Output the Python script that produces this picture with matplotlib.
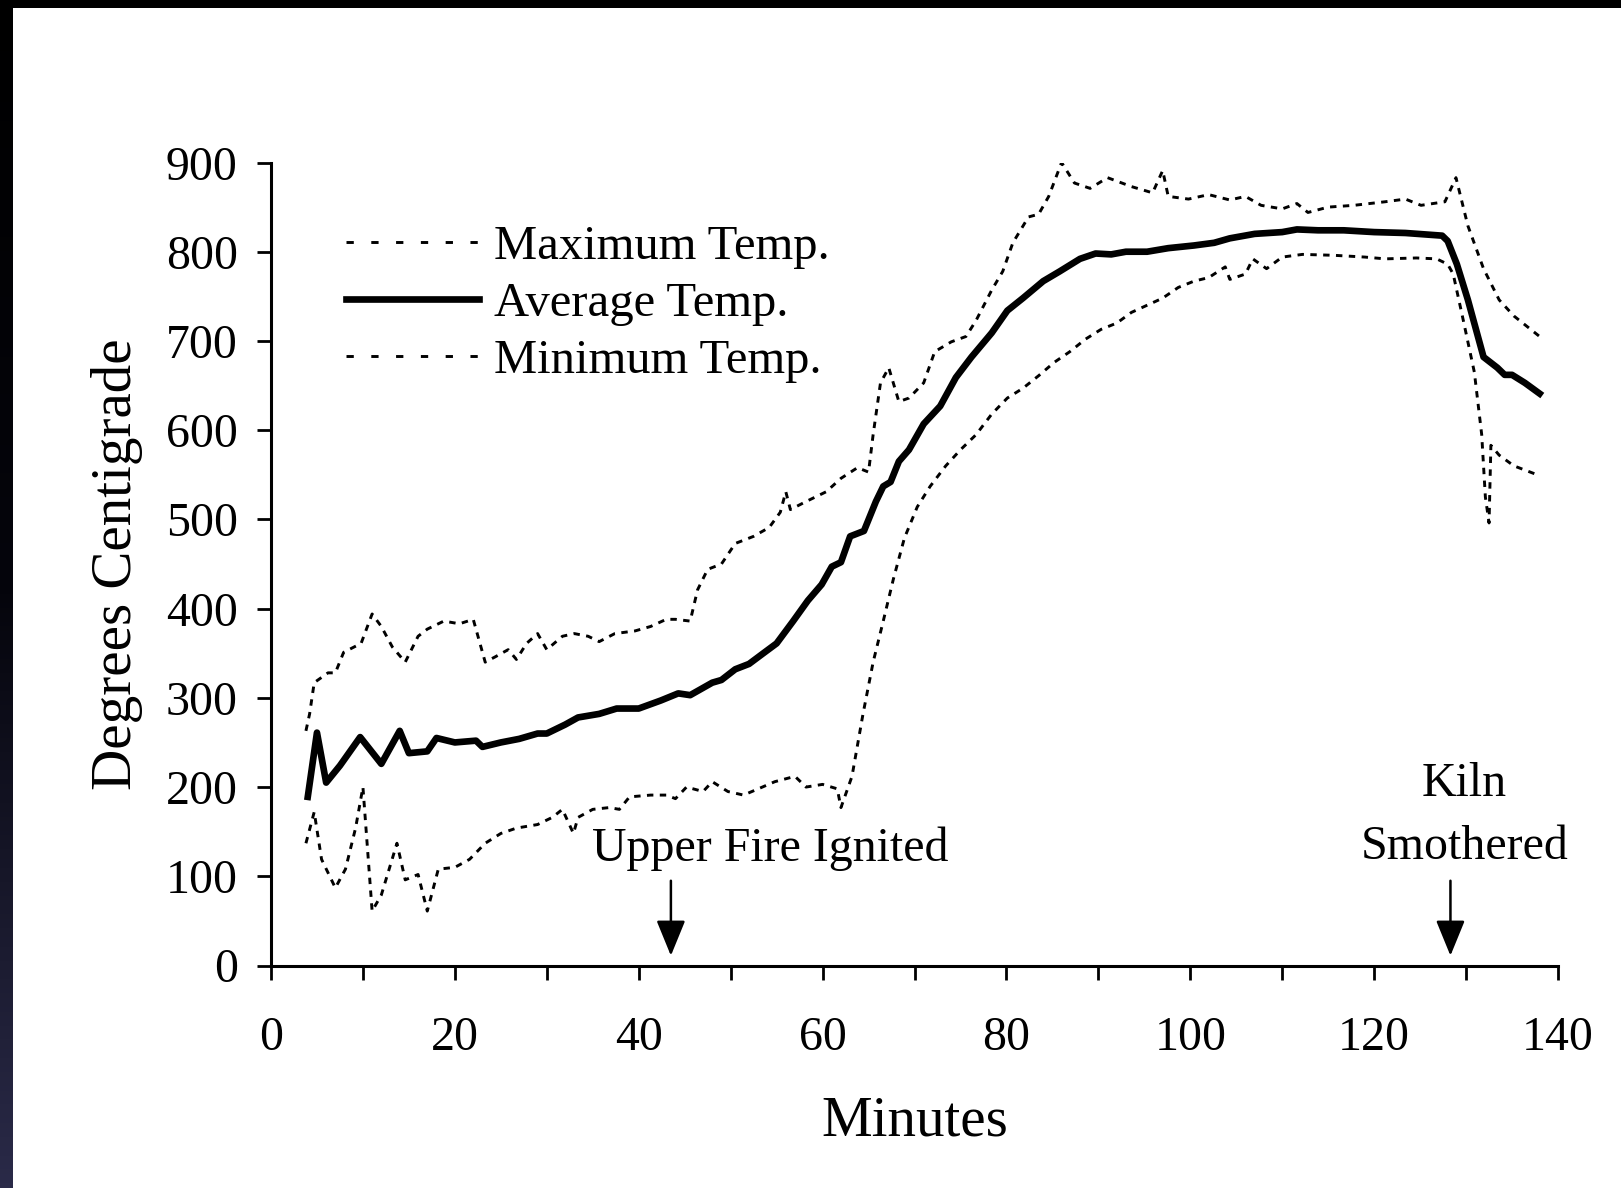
import numpy as np
import matplotlib
matplotlib.use("Agg")
import matplotlib.pyplot as plt
from matplotlib.lines import Line2D

# kiln firing temperatures
avg_min = [4, 5, 6, 7.5, 9.7, 12, 14, 15, 17, 18, 20, 22.3, 23, 25, 27, 29, 30, 32, 33.4, 35.7,
           37.6, 40, 42.4, 44.3, 45.6, 48, 49, 50.5, 52, 53.3, 55, 56.8, 58.4, 59.9, 61, 62, 63,
           64.5, 65.8, 66.6, 67.4, 68.3, 69.4, 71, 72.8, 74.5, 76.2, 78.4, 80.1, 81.8, 84, 85.8,
           88, 89.7, 91.4, 93, 95.3, 97.6, 100.4, 102.6, 104.3, 107, 110, 111.6, 113.9, 116.7,
           120, 123.4, 127.4, 128, 129, 130.2, 131.9, 133.4, 134.2, 135, 136.4, 138]
avg_temp = [189, 261, 205, 224, 256, 226, 263, 238, 240, 255, 250, 252, 245, 250, 254, 260, 260,
            270, 278, 282, 288, 288, 297, 305, 303, 317, 320, 332, 338, 348, 361, 386, 409, 427,
            447, 452, 481, 487, 520, 537, 542, 565, 578, 607, 627, 659, 682, 709, 734, 748, 767,
            778, 792, 798, 797, 800, 800, 804, 807, 810, 815, 820, 822, 825, 824, 824, 822, 821,
            818, 812, 786, 746, 682, 670, 662, 662, 653, 641]

max_min = [3.8, 4.2, 4.7, 6.2, 7, 7.9, 9.8, 11, 12, 13.2, 14.6, 16, 17, 18.8, 20.5, 22, 23.3,
           24.4, 25.8, 26.7, 27.8, 29, 30, 31.7, 33, 34.5, 35.7, 37.4, 39.6, 41.3, 43, 44, 45.6,
           46.4, 47.5, 49, 50.5, 52.5, 54.2, 55.4, 56, 56.5, 58.2, 60.4, 62, 63.8, 65, 65.5, 66.3,
           67.2, 68.3, 69.4, 71, 72.2, 74, 75.6, 76.7, 78.4, 79.6, 80.7, 82.4, 83.5, 84.6, 86,
           87.4, 89.1, 91, 93.6, 95.9, 97, 97.6, 99.8, 102, 104.3, 106, 107.7, 110, 111.6, 112.8,
           115, 117.8, 121.2, 123.4, 125.1, 127.7, 128.9, 130.2, 131.9, 133.6, 135.2, 138]
max_temp = [263, 282, 317, 328, 328, 351, 361, 394, 380, 357, 340, 369, 377, 386, 383, 388, 340,
            346, 354, 343, 361, 372, 354, 369, 372, 369, 363, 372, 375, 380, 388, 388, 386, 421,
            444, 450, 473, 481, 491, 508, 531, 511, 520, 531, 546, 558, 553, 595, 653, 670, 632,
            636, 653, 688, 699, 705, 723, 757, 778, 810, 839, 842, 862, 900, 877, 871, 883, 873,
            866, 891, 862, 859, 864, 858, 862, 852, 848, 854, 844, 850, 852, 856, 859, 852, 856,
            883, 829, 781, 746, 728, 705]

min_min = [3.8, 4.7, 5.5, 7, 8.1, 9.2, 10, 11, 12, 13.7, 14.6, 16, 17, 18.2, 20, 21.6, 23.3, 25,
           26.7, 29, 30.6, 31.7, 32.9, 33.4, 35, 36.8, 37.9, 39, 41.3, 43, 44, 45.2, 47, 48, 49.7,
           51.4, 53, 54.8, 57, 58.2, 60, 61.6, 62, 63.2, 64.4, 65.5, 66.6, 67.7, 68.9, 70.3, 71.7,
           73.4, 75, 76.7, 78.4, 80.1, 81.8, 83.5, 85.2, 86.9, 88.6, 90.3, 92, 93.6, 95.3, 97,
           98.7, 100.4, 102, 103.8, 104.3, 106, 106.8, 108.3, 110, 112.2, 115.6, 119, 121.2,
           124.6, 126.8, 128, 128.6, 129.7, 130.9, 131.7, 132.1, 132.5, 132.7, 133.6, 135.2, 138]
min_temp = [137, 172, 119, 87, 108, 154, 200, 61, 79, 137, 96, 102, 61, 108, 110, 119, 137, 148,
            154, 158, 166, 175, 148, 166, 175, 177, 175, 189, 191, 191, 187, 200, 195, 206, 195,
            191, 198, 206, 212, 200, 203, 198, 177, 212, 282, 340, 386, 433, 479, 514, 537, 560,
            578, 595, 618, 636, 647, 661, 676, 688, 702, 713, 720, 732, 740, 748, 760, 767, 771,
            783, 769, 775, 792, 781, 794, 797, 796, 794, 792, 793, 792, 786, 775, 723, 665, 595,
            525, 496, 583, 572, 560, 549]

x_ticks = [0, 20, 40, 60, 80, 100, 120, 140]
y_ticks = [0, 100, 200, 300, 400, 500, 600, 700, 800, 900]

# events marked with arrows
ignite_min = 43.5
smother_min = 128.3

plt.rcParams['font.family'] = ['Liberation Serif', 'DejaVu Serif']
FS = 34.5
LFS = 41

fig = plt.figure(figsize=(16.21, 11.88), dpi=100)
fig.patch.set_facecolor('white')

# dark frame on top and left of the screenshot
top = fig.add_axes([0, 1 - 8 / 1188, 1, 8 / 1188])
top.set_axis_off()
top.add_patch(plt.Rectangle((0, 0), 1, 1, color='black', transform=top.transAxes))
left = fig.add_axes([0, 0, 13 / 1621, 1])
grad = np.linspace(0, 1, 256).reshape(-1, 1)
cmap = matplotlib.colors.LinearSegmentedColormap.from_list('edge', ['#000000', '#05050c', '#2a2a48'])
left.imshow(grad, aspect='auto', cmap=cmap, extent=[0, 1, 1, 0])
left.set_axis_off()

ax = fig.add_axes([271 / 1621, 1 - 965.5 / 1188, 1287 / 1621, 803 / 1188])

dotted = (0, (2.2, 2.2))
ax.plot(max_min, max_temp, color='black', lw=2.1, ls=dotted)
ax.plot(avg_min, avg_temp, color='black', lw=4.8, solid_joinstyle='round')
ax.plot(min_min, min_temp, color='black', lw=2.1, ls=dotted)

ax.set_xlim(0, 140)
ax.set_ylim(0, 900)
ax.set_xticks(x_ticks)
ax.set_xticks(range(0, 141, 10), minor=True)
ax.set_yticks(y_ticks)
for s in ['top', 'right']:
    ax.spines[s].set_visible(False)
for s in ['left', 'bottom']:
    ax.spines[s].set_linewidth(2.2)
ax.tick_params(which='both', direction='out', length=10, width=2, labelsize=FS)
ax.tick_params(axis='x', which='major', pad=26)
ax.tick_params(axis='y', pad=14)

ax.set_xlabel('Minutes', fontsize=LFS, labelpad=26)
ax.set_ylabel('Degrees Centigrade', fontsize=LFS, labelpad=16)

# legend samples use the wider dash spacing seen in the key
handles = [Line2D([], [], color='black', lw=2.1, ls=(0, (2.5, 6))),
           Line2D([], [], color='black', lw=4.8),
           Line2D([], [], color='black', lw=2.1, ls=(0, (2.5, 6)))]
labels = ['Maximum Temp.', 'Average Temp.', 'Minimum Temp.']
ax.legend(handles, labels, loc='upper left', bbox_to_anchor=(0.058, 0.922), frameon=False,
          fontsize=FS + 0.5, handlelength=2.75, handletextpad=0.3, labelspacing=0.27,
          borderpad=0, borderaxespad=0)

arrow = dict(arrowstyle='-|>,head_width=0.45,head_length=1.1', lw=1.8, color='black',
             mutation_scale=20, shrinkA=0, shrinkB=0)
ax.annotate('', xy=(ignite_min, 11), xytext=(ignite_min, 95), arrowprops=arrow)
ax.annotate('', xy=(smother_min, 11), xytext=(smother_min, 95), arrowprops=arrow)
ax.text(54.3, 131, 'Upper Fire Ignited', fontsize=FS, ha='center', va='center')
ax.text(129.8, 203, 'Kiln', fontsize=FS, ha='center', va='center')
ax.text(129.8, 133, 'Smothered', fontsize=FS, ha='center', va='center')

fig.savefig('out.png', dpi=100)
